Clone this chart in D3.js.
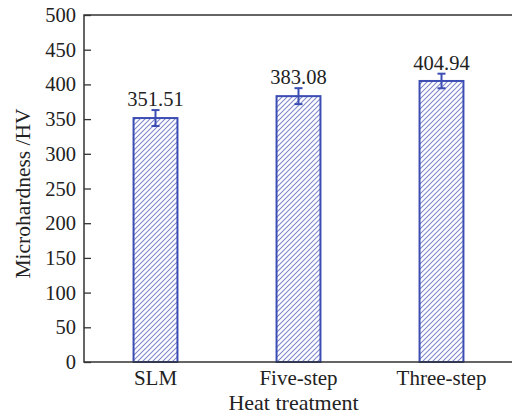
<!DOCTYPE html>
<html>
<head>
<meta charset="utf-8">
<script src="https://cdn.jsdelivr.net/npm/d3@7"></script>
<style>
  body { margin: 0; background: #fff; }
  text { font-family: "Liberation Serif", "DejaVu Serif", serif; fill: #222; }
</style>
</head>
<body>
<svg id="chart" width="512" height="417"></svg>
<script>
// Dades
const categories = ["SLM", "Five-step", "Three-step"];
const values = [351.51, 383.08, 404.94];
const errors = [11.5, 11.5, 10.5];
const yTicks = [0, 50, 100, 150, 200, 250, 300, 350, 400, 450, 500];

const margin = { top: 15, right: -1, bottom: 55, left: 84 },
      width = 512 - margin.left - margin.right,
      height = 417 - margin.top - margin.bottom;

const svg = d3.select("#chart");

// Patró de ratllat
svg.append("defs").append("pattern")
    .attr("id", "hatch")
    .attr("patternUnits", "userSpaceOnUse")
    .attr("width", 5)
    .attr("height", 5)
    .html('<path d="M-1,1 l2,-2 M0,5 l5,-5 M4,6 l2,-2" stroke="#7f86cc" stroke-width="1.1"/>');

const g = svg.append("g")
    .attr("transform", `translate(${margin.left},${margin.top})`);

// Escala X
const x = d3.scaleBand()
    .domain(categories)
    .range([0, width])
    .paddingInner(0.693)
    .paddingOuter(0.3465);

// Escala Y
const y = d3.scaleLinear()
    .domain([0, 500])
    .range([height, 0]);

// Eix Y (ticks cap a dins)
const yAxis = g.append("g")
    .call(d3.axisRight(y).tickValues(yTicks).tickSize(7).tickFormat(d3.format("d")));
yAxis.select(".domain").remove();
yAxis.selectAll(".tick line").attr("stroke", "#333").attr("stroke-width", 1.3);
yAxis.selectAll(".tick text")
    .attr("x", -8)
    .attr("text-anchor", "end")
    .attr("font-size", "20.5px")
    .attr("fill", "#222");

// Eix X
const xAxis = g.append("g")
    .attr("transform", `translate(0,${height})`)
    .call(d3.axisBottom(x).tickSize(0).tickPadding(8));
xAxis.select(".domain").remove();
xAxis.selectAll(".tick text")
    .attr("font-size", "21px")
    .attr("fill", "#222");

// Barres
g.selectAll(".bar")
    .data(values)
    .enter()
    .append("rect")
    .attr("class", "bar")
    .attr("x", (d, i) => x(categories[i]))
    .attr("y", d => y(d))
    .attr("width", x.bandwidth())
    .attr("height", d => height - y(d))
    .attr("fill", "url(#hatch)")
    .attr("stroke", "#3b4db3")
    .attr("stroke-width", 2);

// Barres d'error
const eb = g.selectAll(".err")
    .data(values)
    .enter()
    .append("g")
    .attr("class", "err")
    .attr("stroke", "#3b4db3")
    .attr("stroke-width", 2);
eb.append("line")
    .attr("x1", (d, i) => x(categories[i]) + x.bandwidth() / 2)
    .attr("x2", (d, i) => x(categories[i]) + x.bandwidth() / 2)
    .attr("y1", (d, i) => y(d + errors[i]))
    .attr("y2", (d, i) => y(d - errors[i]));
eb.append("line")
    .attr("x1", (d, i) => x(categories[i]) + x.bandwidth() / 2 - 4)
    .attr("x2", (d, i) => x(categories[i]) + x.bandwidth() / 2 + 4)
    .attr("y1", (d, i) => y(d + errors[i]))
    .attr("y2", (d, i) => y(d + errors[i]));
eb.append("line")
    .attr("x1", (d, i) => x(categories[i]) + x.bandwidth() / 2 - 4)
    .attr("x2", (d, i) => x(categories[i]) + x.bandwidth() / 2 + 4)
    .attr("y1", (d, i) => y(d - errors[i]))
    .attr("y2", (d, i) => y(d - errors[i]));

// Etiquetes de valor
g.selectAll(".bar-label")
    .data(values)
    .enter()
    .append("text")
    .attr("class", "bar-label")
    .attr("x", (d, i) => x(categories[i]) + x.bandwidth() / 2)
    .attr("y", (d, i) => y(d + errors[i]) - 4)
    .attr("text-anchor", "middle")
    .attr("font-size", "20.5px")
    .text(d => d.toFixed(2));

// Vores (esquerra, dalt, baix)
g.append("path")
    .attr("d", `M${width},0H0V${height}H${width}`)
    .attr("fill", "none")
    .attr("stroke", "#333")
    .attr("stroke-width", 1.5);

// Títol eix Y
g.append("text")
    .attr("transform", "rotate(-90)")
    .attr("x", -height / 2 - 5)
    .attr("y", -54)
    .attr("text-anchor", "middle")
    .attr("font-size", "21.5px")
    .text("Microhardness /HV");

// Títol eix X
g.append("text")
    .attr("x", width / 2 - 5)
    .attr("y", height + 48)
    .attr("text-anchor", "middle")
    .attr("font-size", "22px")
    .text("Heat treatment");
</script>
</body>
</html>
